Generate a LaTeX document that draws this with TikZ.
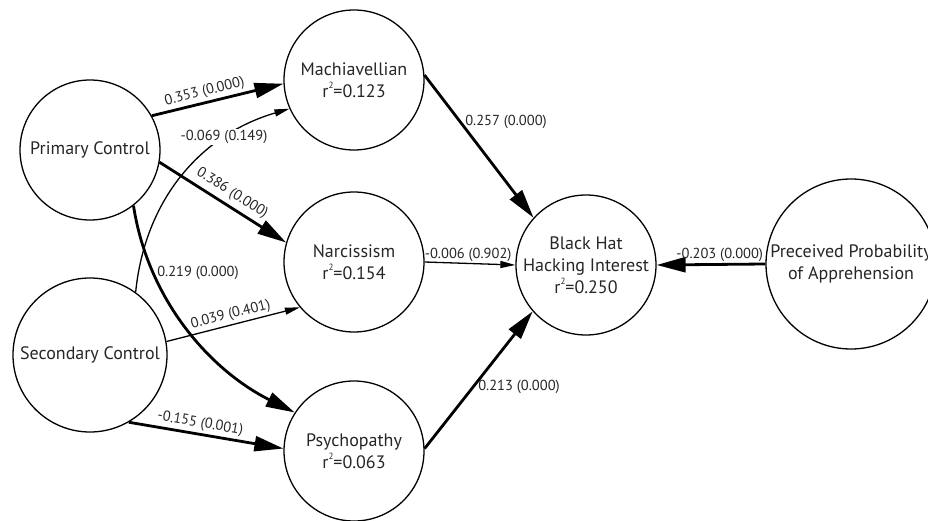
\documentclass[tikz,border=0pt]{standalone}
\usepackage{fontspec}
\setmainfont{PT Sans}
\usetikzlibrary{arrows.meta}
\definecolor{textgray}{HTML}{262626}
\newcommand{\rsq}{r\raisebox{0.5em}{\fontsize{9}{9}\selectfont 2}}
\begin{document}
\begin{tikzpicture}[x=1pt,y=-1pt,
  construct/.style={circle, draw=black, line width=1.3pt, inner sep=0pt},
  ctext/.style={align=center, text=textgray, font=\fontsize{18}{22}\selectfont},
  strongpath/.style={line width=2.8pt, -{Triangle[length=29pt,width=15pt]}},
  weakpath/.style={line width=1.3pt, -{Triangle[length=15pt,width=7pt]}},
  coef/.style={font=\fontsize{14.5}{16}\selectfont, text=textgray, inner sep=1.5pt},
]
\useasboundingbox (0,0) rectangle (928,521);

% latent constructs
\node[construct, minimum size=140pt, label={[ctext]center:Primary Control}] (pc) at (90,150) {};
\node[construct, minimum size=154pt, label={[ctext]center:Secondary Control}] (sc) at (90,355) {};
\node[construct, minimum size=140pt, label={[ctext]center:Machiavellian\\\rsq=0.123}] (mach) at (354,80) {};
\node[construct, minimum size=140pt, label={[ctext]center:Narcissism\\\rsq=0.154}] (narc) at (354,262) {};
\node[construct, minimum size=140pt, label={[ctext]center:Psychopathy\\\rsq=0.063}] (psy) at (354,451) {};
\node[construct, minimum size=140pt, label={[ctext]center:Black Hat\\Hacking Interest\\\rsq=0.250}] (bh) at (586,265) {};
\node[construct, minimum size=170pt, label={[ctext]center:Preceived Probability\\of Apprehension}] (pp) at (851,264) {};

% paths from the control constructs
\draw[strongpath] (pc.29) -- node[coef, sloped, above=1pt, pos=0.42] {0.353 (0.000)} (mach.183);
\draw[weakpath] (sc.54) .. controls (145,200) and (200,135) .. (mach.204);
\node[coef, fill=white, inner sep=1pt] (l069) at (224,137) {-0.069 (0.149)};
\draw[strongpath] (pc.-10) -- node[coef, sloped, above=3pt, pos=0.52] {0.386 (0.000)} (narc.164);
\draw[strongpath] (pc.-52) .. controls (148,300) and (210,370) .. (psy.147);
\node[coef] (l219) at (198,273) {0.219 (0.000)};
\draw[weakpath] (sc.10) -- node[coef, sloped, above=1pt, pos=0.5] {0.039 (0.401)} (narc.220);
\draw[strongpath] (sc.-60) -- node[coef, sloped, above=1pt, pos=0.45] {-0.155 (0.001)} (psy.178);

% paths into the outcome
\draw[strongpath] (mach.4) -- (bh.138);
\node[coef] (l257) at (506,122) {0.257 (0.000)};
\draw[weakpath] (narc.east) -- node[coef, above, pos=0.48] {-0.006 (0.902)} (bh.west);
\draw[strongpath] (psy.2) -- (bh.221);
\node[coef] (l213) at (519,387) {0.213 (0.000)};
\draw[strongpath] (pp.west) -- node[coef, above, pos=0.42] {-0.203 (0.000)} (bh.east);
\end{tikzpicture}
\end{document}
